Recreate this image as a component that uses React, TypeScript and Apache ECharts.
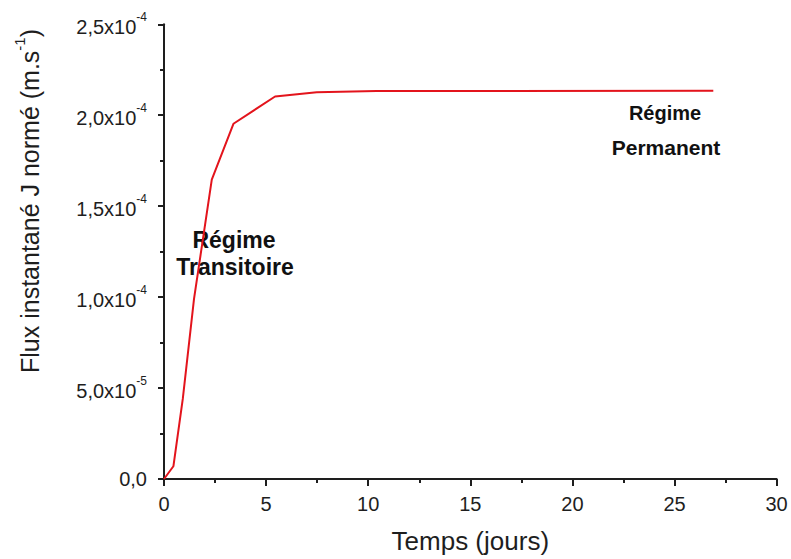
import React, { useEffect, useRef } from "react";
import * as echarts from "echarts";

// Data
const timeDays = [0, 0.46, 0.92, 1.47, 2.34, 3.4, 5.44, 7.48, 10.4, 26.9];
const fluxValues = [0, 0.7e-5, 4.4e-5, 9.9e-5, 1.646e-4, 1.953e-4, 2.103e-4, 2.127e-4, 2.133e-4, 2.134e-4];

const yTickMantissa = ["0,0", "5,0", "1,0", "1,5", "2,0", "2,5"];
const yTickExponent = ["", "-5", "-4", "-4", "-4", "-4"];

const xAxisName = "Temps (jours)";
const yAxisNameMain = "Flux instantané J normé (m.s";
const yAxisNameSup = "-1";
const annotTransitoire = ["Régime", "Transitoire"];
const annotPermanent = ["Régime", "Permanent"];

const FONT = "'Liberation Sans', Arial, Helvetica, sans-serif";
const INK = "#1e1e1e";

export default function App() {
  const ref = useRef<HTMLDivElement>(null);

  useEffect(() => {
    if (!ref.current) return;
    const chart = echarts.init(ref.current, undefined, { renderer: "svg" });
    const data = timeDays.map((t, i) => [t, fluxValues[i]]);

    const boldText = (text: string, x: number, y: number, size: number) => ({
      type: "text",
      x,
      y,
      style: {
        text,
        font: `bold ${size}px ${FONT}`,
        fontFamily: FONT,
        fontWeight: "bold",
        fontSize: size,
        fill: "#111",
        align: "center",
        verticalAlign: "middle",
        textAlign: "center",
        textVerticalAlign: "middle",
      },
    });

    chart.setOption({
      animation: false,
      backgroundColor: "#ffffff",
      grid: { left: 164, right: 14.4, top: 24.3, bottom: 79, containLabel: false },
      xAxis: {
        type: "value",
        min: 0,
        max: 30,
        interval: 5,
        name: xAxisName,
        nameLocation: "middle",
        nameGap: 49,
        nameTextStyle: { fontFamily: FONT, fontSize: 26, color: INK },
        axisLine: { show: true, onZero: false, lineStyle: { color: INK, width: 2 } },
        axisTick: { show: true, inside: false, length: 7, lineStyle: { color: INK, width: 2 } },
        minorTick: { show: true, splitNumber: 2, length: 4, lineStyle: { color: INK, width: 2 } },
        axisLabel: { fontFamily: FONT, fontSize: 20, color: INK, margin: 15 },
        splitLine: { show: false },
      },
      yAxis: {
        type: "value",
        min: 0,
        max: 2.5e-4,
        interval: 5e-5,
        axisLine: { show: true, onZero: false, lineStyle: { color: INK, width: 2 } },
        axisTick: { show: true, inside: false, length: 6, lineStyle: { color: INK, width: 2 } },
        minorTick: { show: true, splitNumber: 2, length: 4, lineStyle: { color: INK, width: 2 } },
        axisLabel: {
          margin: 17,
          formatter: (v: number) => {
            const i = Math.round(v / 5e-5);
            if (!yTickExponent[i]) return `{z|${yTickMantissa[i]}}`;
            return `{a|${yTickMantissa[i]}x10}{b|${yTickExponent[i]}}`;
          },
          rich: {
            z: { fontFamily: FONT, fontSize: 20, color: INK, lineHeight: 20 },
            a: { fontFamily: FONT, fontSize: 20, color: INK, lineHeight: 20, verticalAlign: "bottom" },
            b: { fontFamily: FONT, fontSize: 12, color: INK, lineHeight: 26, verticalAlign: "top" },
          },
        },
        splitLine: { show: false },
      },
      series: [
        {
          type: "line",
          data,
          showSymbol: false,
          symbol: "none",
          lineStyle: { color: "#e3141c", width: 2 },
          itemStyle: { color: "#e3141c" },
        },
      ],
      graphic: [
        {
          type: "text",
          x: 27,
          y: 201,
          rotation: Math.PI / 2,
          style: {
            text: `{a|${yAxisNameMain}}{b|${yAxisNameSup}}{a|)}`,
            rich: {
              a: { fontFamily: FONT, fontSize: 25, fill: INK, color: INK, lineHeight: 25, verticalAlign: "bottom" },
              b: { fontFamily: FONT, fontSize: 15, fill: INK, color: INK, lineHeight: 30, verticalAlign: "top" },
            },
            align: "center",
            verticalAlign: "middle",
            textAlign: "center",
            textVerticalAlign: "middle",
          },
        },
        boldText(annotTransitoire[0], 234, 240, 23),
        boldText(annotTransitoire[1], 235, 267, 23),
        boldText(annotPermanent[0], 665, 113, 20),
        boldText(annotPermanent[1], 666, 147, 21),
      ],
    });

    return () => chart.dispose();
  }, []);

  return (
    <div
      ref={ref}
      style={{ position: "fixed", left: 0, top: 0, width: 791, height: 559, background: "#fff" }}
    />
  );
}
